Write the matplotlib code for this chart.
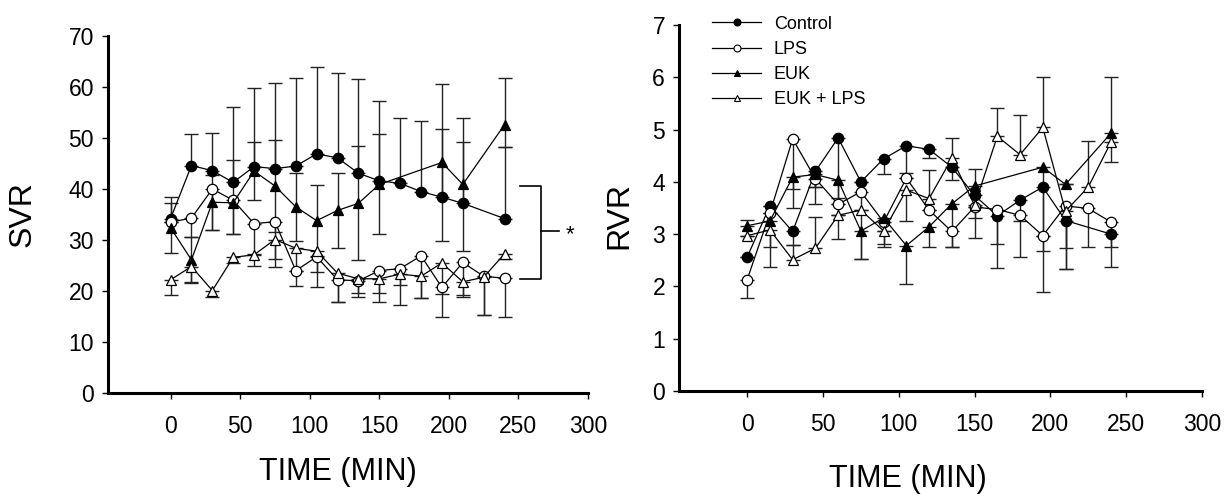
import numpy as np
import matplotlib
matplotlib.use("Agg")
import matplotlib.pyplot as plt
from matplotlib.lines import Line2D

plt.rcParams['font.family'] = ['Liberation Sans', 'DejaVu Sans']

nan = np.nan
# ---------------- data ----------------
time = [0, 15, 30, 45, 60, 75, 90, 105, 120, 135, 150, 165, 180, 195, 210, 225, 240]
xticks = [0, 50, 100, 150, 200, 250, 300]
labels = ["Control", "LPS", "EUK", "EUK + LPS"]

# SVR (left panel)
svr_control = [34.2, 44.6, 43.6, 41.3, 44.4, 44.0, 44.5, 46.9, 46.1, 43.1, 41.6, 41.1, 39.5, 38.4, 37.2, nan, 34.2]
svr_lps = [33.5, 34.3, 40.0, 37.8, 33.2, 33.6, 24.0, 26.7, 22.2, 22.0, 24.0, 24.4, 26.9, 20.7, 25.6, 22.9, 22.5]
svr_euk = [32.4, 26.1, 37.4, 37.3, 43.5, 40.6, 36.5, 33.8, 35.8, 37.2, 40.9, nan, nan, 45.2, 40.9, nan, 52.6]
svr_euklps = [22.2, 24.8, 20.1, 26.6, 27.1, 30.1, 28.4, 27.8, 23.5, 22.4, 22.4, 23.3, 22.9, 25.5, 21.8, 22.7, 27.3]

svr_control_up = [4.3, 6.2, 7.4, 14.7, 15.5, 16.8, 17.2, 17.1, 16.7, 18.4, 15.7, 12.9, 13.8, 13.4, 12.0, nan, 14.0]
svr_control_dn = [nan] * 17
svr_lps_up = [nan] * 17
svr_lps_dn = [nan, 3.7, 8.0, 6.7, 6.0, 8.9, 3.0, 5.9, 4.4, 2.4, 4.4, 3.2, 8.3, 5.7, 6.3, 7.6, 7.6]
svr_euk_up = [4.9, 4.5, 5.4, 8.4, 5.7, 9.0, 6.6, 7.0, 7.4, 11.2, 9.8, nan, nan, 15.4, 13.1, nan, 9.1]
svr_euk_dn = [4.9, 4.5, 5.4, 6.2, 5.7, 9.0, 6.6, 7.0, 7.4, 11.2, 9.8, nan, nan, 15.4, 13.1, nan, 4.4]
svr_euklps_up = [nan] * 17
svr_euklps_dn = [2.9, 3.1, 1.3, 1.2, 2.1, 3.8, 4.4, 4.1, 5.7, 3.6, 4.6, 6.0, 4.3, 6.0, 3.0, 7.4, 1.0]

# RVR (right panel)
rvr_control = [2.56, 3.54, 3.05, 4.20, 4.84, 4.00, 4.44, 4.69, 4.62, 4.28, 3.74, 3.35, 3.65, 3.90, 3.26, nan, 3.00]
rvr_lps = [2.13, 3.40, 4.82, 4.06, 3.57, 3.81, 3.23, 4.07, 3.46, 3.05, 3.52, 3.47, 3.36, 2.97, 3.54, 3.49, 3.23]
rvr_euk = [3.16, 3.25, 4.09, 4.14, 4.03, 3.06, 3.31, 2.78, 3.14, 3.58, 3.92, nan, nan, 4.28, 3.95, nan, 4.93]
rvr_euklps = [2.97, 3.08, 2.51, 2.73, 3.36, 3.46, 3.06, 3.84, 3.68, 4.45, 3.55, 4.87, 4.52, 5.04, 3.44, 3.90, 4.76]

rvr_control_up = [nan] * 17
rvr_control_dn = [nan, nan, 0.25, 0.3, 1.93, nan, 0.3, 0.52, 0.17, 0.25, 0.43, 0.54, 0.39, 2.0, 0.53, nan, 0.62]
rvr_lps_up = [nan] * 17
rvr_lps_dn = [0.35, nan, 0.95, 0.49, nan, 1.29, 0.42, nan, nan, 0.29, nan, 1.12, 0.8, nan, 1.2, 0.74, 0.48]
rvr_euk_up = [0.11, nan, nan, nan, nan, nan, nan, nan, nan, nan, 0.33, nan, nan, nan, nan, nan, 1.07]
rvr_euk_dn = [nan, 0.5, 0.6, 0.24, 0.33, 0.54, 0.56, 0.73, 0.39, 0.82, nan, nan, nan, 1.6, nan, nan, nan]
rvr_euklps_up = [nan, nan, 0.29, 0.59, nan, nan, nan, nan, 0.54, 0.38, nan, 0.54, 0.76, 0.96, nan, 0.89, nan]
rvr_euklps_dn = [nan, 0.71, nan, nan, nan, nan, nan, 0.59, nan, nan, 0.63, nan, nan, nan, 1.1, nan, 0.38]

styles = [
    dict(marker='o', mfc='black', mec='black'),
    dict(marker='o', mfc='white', mec='black'),
    dict(marker='^', mfc='black', mec='black'),
    dict(marker='^', mfc='white', mec='black'),
]

fig = plt.figure(figsize=(12.24, 4.98), dpi=100)
axL = fig.add_axes([0.0882, 0.2108, 0.3922, 0.7169])
axR = fig.add_axes([0.5547, 0.2149, 0.4273, 0.735])


def draw(ax, series, ups, dns):
    for vals, up, dn, st in zip(series, ups, dns, styles):
        x = np.array(time, float)
        y = np.array(vals, float)
        u = np.nan_to_num(np.array(up, float))
        d = np.nan_to_num(np.array(dn, float))
        ax.errorbar(x, y, yerr=[d, u], fmt='none', ecolor='#222222',
                    elinewidth=1.0, capsize=5, capthick=1.0, zorder=2)
        m = ~np.isnan(y)
        ax.plot(x[m], y[m], color='black', lw=0.9, ms=7.5, mew=0.9, zorder=3, **st)


def style(ax, ymax, ystep):
    ax.set_xlim(-45, 300)
    ax.set_ylim(0, ymax)
    ax.set_xticks(xticks)
    ax.set_yticks(np.arange(0, ymax + ystep / 2, ystep))
    for s in ['top', 'right']:
        ax.spines[s].set_visible(False)
    for s in ['left', 'bottom']:
        ax.spines[s].set_linewidth(2.2)
    ax.tick_params(direction='out', length=4, width=1, labelsize=16.5, pad=6)
    ax.tick_params(axis='x', pad=12)


draw(axL, [svr_control, svr_lps, svr_euk, svr_euklps],
     [svr_control_up, svr_lps_up, svr_euk_up, svr_euklps_up],
     [svr_control_dn, svr_lps_dn, svr_euk_dn, svr_euklps_dn])
style(axL, 70, 10)
axL.set_ylabel("SVR", fontsize=23)
axL.set_xlabel("TIME (MIN)", fontsize=22)
axL.yaxis.set_label_coords(-0.146, 0.5)
axL.xaxis.set_label_coords(0.479, -0.18)

# significance bracket
axL.plot([251, 266, 266, 251], [40.5, 40.5, 22.4, 22.4], color='black', lw=1.2, clip_on=False)
axL.plot([266, 279], [31.8, 31.8], color='black', lw=1.2, clip_on=False)
axL.text(284, 31.0, "*", fontsize=16, ha='left', va='center')

draw(axR, [rvr_control, rvr_lps, rvr_euk, rvr_euklps],
     [rvr_control_up, rvr_lps_up, rvr_euk_up, rvr_euklps_up],
     [rvr_control_dn, rvr_lps_dn, rvr_euk_dn, rvr_euklps_dn])
style(axR, 7, 1)
axR.set_ylabel("RVR", fontsize=23)
axR.set_xlabel("TIME (MIN)", fontsize=22)
axR.yaxis.set_label_coords(-0.086, 0.48)
axR.xaxis.set_label_coords(0.438, -0.2)

handles = [Line2D([], [], color='black', lw=0.9, ms=5, mew=0.8, **st) for st in styles]
axR.legend(handles, labels, loc='upper left', bbox_to_anchor=(0.05, 1.045), frameon=False,
           fontsize=13, handlelength=2.7, handletextpad=0.7, labelspacing=0.45, borderaxespad=0)

fig.savefig("out.png", dpi=100)
